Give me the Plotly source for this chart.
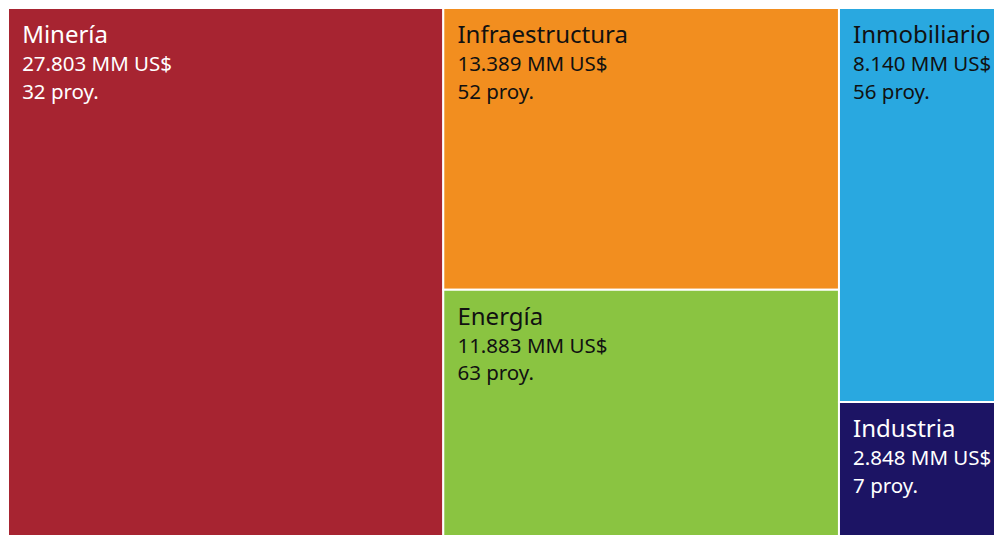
import plotly.graph_objects as go

sectors = ["Minería", "Infraestructura", "Energía", "Inmobiliario", "Industria"]
amounts = [27803, 13389, 11883, 8140, 2848]  # MM US$
amount_labels = ["27.803", "13.389", "11.883", "8.140", "2.848"]
projects = [32, 52, 63, 56, 7]

colors = ["#A72431", "#F28E1F", "#8AC441", "#29A8E0", "#1C1464"]
text_colors = ["#FFFFFF", "#111111", "#111111", "#111111", "#FFFFFF"]

# base font small so the line step is ~14px; real lines use spans and sit on every other line
ind = "&nbsp;&nbsp;&nbsp;&nbsp;"
tmpl = (
    "<span style='font-size:17px'>&nbsp;</span><br>"
    + ind + "<span style='font-size:24px'>%{label}</span><br> <br>"
    + ind + "<span style='font-size:20.5px'>%{customdata[0]} MM US$</span><br> <br>"
    + ind + "<span style='font-size:20.5px'>%{customdata[1]} proy.</span>"
)

fig = go.Figure(go.Treemap(
    labels=sectors,
    parents=[""] * len(sectors),
    values=amounts,
    customdata=list(zip(amount_labels, projects)),
    texttemplate=tmpl,
    textposition="top left",
    textfont={"family": "Noto Sans", "size": 10.7, "color": text_colors},
    marker={"colors": colors, "line": {"color": "#FFFFFF", "width": 2},
            "pad": {"t": 0, "l": 0, "r": 0, "b": 0}},
    tiling={"packing": "squarify", "pad": 0},
    pathbar={"visible": False},
    sort=True,
    hoverinfo="skip",
))

fig.update_layout(
    width=1003,
    height=532,
    margin={"l": 0, "r": 0, "t": 0, "b": 0},
    paper_bgcolor="#FFFFFF",
)

fig.write_html("out.html")
